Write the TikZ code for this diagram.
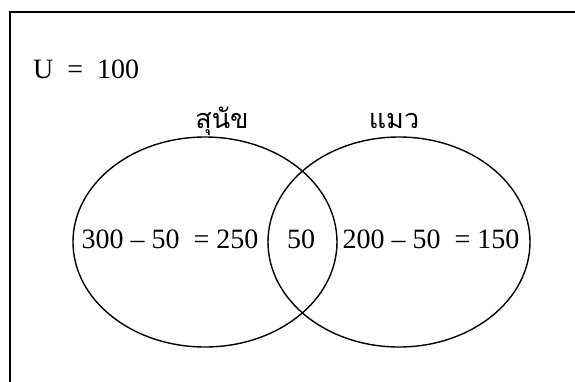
\documentclass[tikz,border=0pt]{standalone}
\usepackage{fontspec}
\setmainfont{Liberation Serif}
\newfontfamily\thaifont[Script=Thai]{Loma}
\usetikzlibrary{shapes.geometric,positioning}

\begin{document}
\begin{tikzpicture}[
    x=1pt, y=-1pt,
    setbox/.style={draw, ellipse, line width=1.4pt, inner sep=0pt, outer sep=0pt, minimum width=264pt, minimum height=210pt},
    num/.style={font=\fontsize{28}{32}\selectfont, anchor=base, inner sep=0pt},
    thai/.style={font=\thaifont\fontsize{27}{30}\selectfont, anchor=base, inner sep=0pt}
]
    \useasboundingbox (0,0) rectangle (575,381);
    % Universe frame (runs off the page at right and bottom)
    \draw[line width=2pt] (10,400) -- (10,12) -- (590,12);

    \node[num, anchor=base west] (u) at (33,78) {U\ \ =\ \ 100};

    % Sets
    \node[setbox] (dog) at (205,242) {};
    \node[setbox, minimum width=262pt] (cat) at (399,242) {};

    \node[thai] (dogname) at (222,128) {สุนัข};
    \node[thai] (catname) at (394,128) {แมว};

    % Counts
    \node[num] (onlydog) at (170,248) {300 -- 50\ \ = 250};
    \node[num] (both) at (301,248) {50};
    \node[num] (onlycat) at (431,248) {200 -- 50\ \ = 150};
\end{tikzpicture}
\end{document}
